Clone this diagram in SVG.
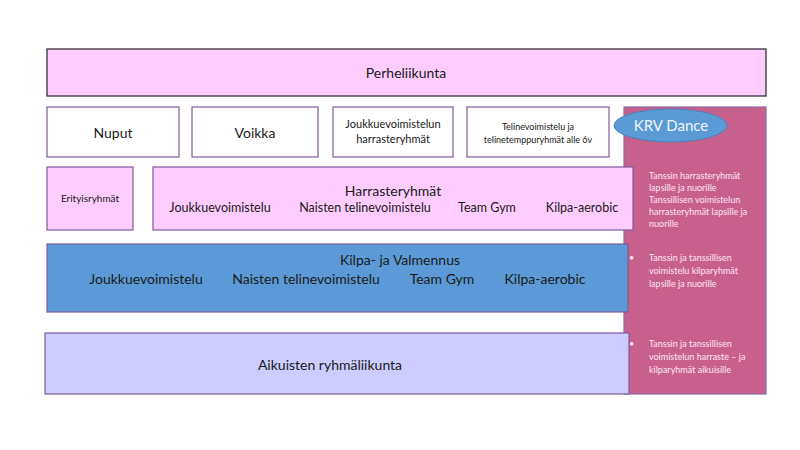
<svg xmlns="http://www.w3.org/2000/svg" width="800" height="450" viewBox="0 0 800 450">
<style>
text{font-family:Lato,"Open Sans","Liberation Sans",sans-serif;fill:#1a1a1a;text-anchor:middle}
.box{stroke:#7e5a9b;stroke-width:1.2}
.w{fill:#ffffff}
.p{fill:#ffccff}
.side text{fill:#fbe6f2;text-anchor:start;font-size:9px}
</style>
<rect width="800" height="450" fill="#ffffff"/>
<g id="krv-column" class="side">
<rect x="624" y="107" width="142" height="287" fill="#c8608e" stroke="#9068a8" stroke-width="1.2"/>
<text x="649" y="179">Tanssin harrasteryhmät</text>
<text x="649" y="191">lapsille ja nuorille</text>
<text x="649" y="203">Tanssillisen voimistelun</text>
<text x="649" y="215">harrasteryhmät lapsille ja</text>
<text x="649" y="227">nuorille</text>
<text x="629" y="261">•</text>
<text x="649" y="261">Tanssin ja tanssillisen</text>
<text x="649" y="274">voimistelu kilparyhmät</text>
<text x="649" y="287">lapsille ja nuorille</text>
<text x="629" y="347">•</text>
<text x="649" y="347">Tanssin ja tanssillisen</text>
<text x="649" y="360">voimistelun harraste – ja</text>
<text x="649" y="373">kilparyhmät aikuisille</text>
</g>
<g id="krv-dance">
<ellipse cx="670.5" cy="125.5" rx="56.5" ry="16.5" fill="#5b9bd5" stroke="#4a7fb8" stroke-width="1"/>
<text x="671" y="131" font-size="15" style="fill:#eef4ff">KRV Dance</text>
</g>
<g id="perheliikunta">
<rect x="47" y="49" width="719" height="47" fill="#ffccff" stroke="#3a3040" stroke-width="1.3"/>
<text x="406" y="78" font-size="14">Perheliikunta</text>
</g>
<g id="nuput">
<rect class="box w" x="47" y="107" width="132" height="50"/>
<text x="113" y="138" font-size="14">Nuput</text>
</g>
<g id="voikka">
<rect class="box w" x="192" y="107" width="126" height="50"/>
<text x="255" y="138" font-size="14">Voikka</text>
</g>
<g id="joukkue-harraste">
<rect class="box w" x="333" y="107" width="120" height="50"/>
<text x="393" y="128" font-size="11">Joukkuevoimistelun</text>
<text x="393" y="143" font-size="11">harrasteryhmät</text>
</g>
<g id="telinevoimistelu">
<rect class="box w" x="467" y="107" width="142" height="50"/>
<text x="538" y="130" font-size="9">Telinevoimistelu ja</text>
<text x="538" y="143" font-size="9">telinetemppuryhmät alle 6v</text>
</g>
<g id="erityisryhmat">
<rect class="box p" x="47" y="167" width="86" height="63"/>
<text x="90" y="202" font-size="10">Erityisryhmät</text>
</g>
<g id="harrasteryhmat">
<rect class="box p" x="153" y="167" width="480" height="63"/>
<text x="393" y="196" font-size="14">Harrasteryhmät</text>
<text x="220" y="212" font-size="12.5">Joukkuevoimistelu</text>
<text x="365" y="212" font-size="12.5">Naisten telinevoimistelu</text>
<text x="487" y="212" font-size="12.5">Team Gym</text>
<text x="582" y="212" font-size="12.5">Kilpa-aerobic</text>
</g>
<g id="kilpa">
<rect class="box" x="47" y="244" width="581" height="68" fill="#5b9ad6" stroke="#5a4f8c"/>
<text x="400" y="265" font-size="14">Kilpa- ja Valmennus</text>
<text x="146" y="284" font-size="14">Joukkuevoimistelu</text>
<text x="306" y="284" font-size="14">Naisten telinevoimistelu</text>
<text x="442" y="284" font-size="14">Team Gym</text>
<text x="545" y="284" font-size="14">Kilpa-aerobic</text>
</g>
<g id="aikuisten">
<rect class="box" x="45" y="333" width="584" height="61" fill="#ccccff" stroke="#6a5a9c"/>
<text x="330" y="370" font-size="14">Aikuisten ryhmäliikunta</text>
</g>
<g id="connectors"/>
</svg>
